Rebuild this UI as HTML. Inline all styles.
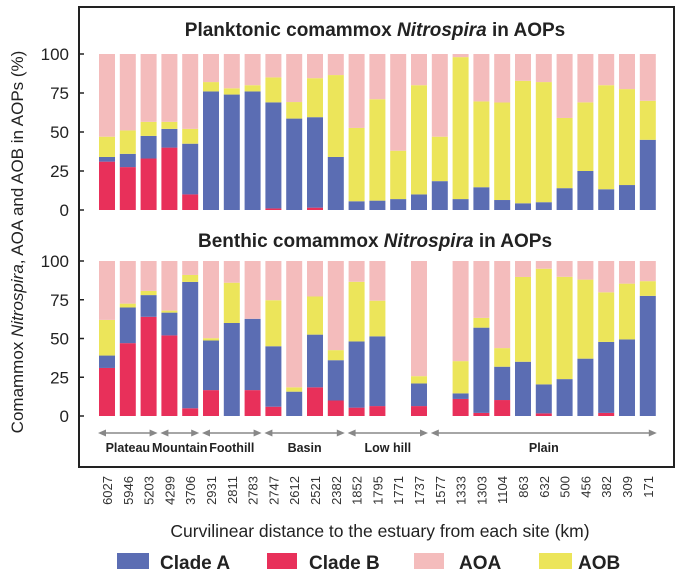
<!DOCTYPE html>
<html><head><meta charset="utf-8">
<style>
html,body{margin:0;padding:0;background:#fff;}
svg{display:block;font-family:"Liberation Sans",Arial,sans-serif;}
</style></head>
<body>
<svg id="chart" width="682" height="582" viewBox="0 0 682 582">
<rect x="79" y="7" width="595" height="460" fill="none" stroke="#222" stroke-width="2"/>
<text x="375" y="36" font-size="19" font-weight="bold" text-anchor="middle" fill="#222">Planktonic comammox <tspan font-style="italic">Nitrospira</tspan> in AOPs</text>
<text x="375" y="247" font-size="19" font-weight="bold" text-anchor="middle" fill="#222">Benthic comammox <tspan font-style="italic">Nitrospira</tspan> in AOPs</text>
<text transform="translate(23,242) rotate(-90)" font-size="17" text-anchor="middle" fill="#222">Comammox <tspan font-style="italic">Nitrospira</tspan>, AOA and AOB in AOPs (%)</text>
<text x="380" y="537" font-size="17.5" text-anchor="middle" fill="#222">Curvilinear distance to the estuary from each site (km)</text>
<g id="bars"></g>
<g id="axes"></g>
<g id="regions"></g>
<g>
<rect x="117" y="553" width="32" height="16" fill="#5b6db3"/>
<text x="160" y="569" font-size="19" font-weight="bold" fill="#222">Clade A</text>
<rect x="267" y="553" width="30" height="16" fill="#e8305a"/>
<text x="309" y="569" font-size="19" font-weight="bold" fill="#222">Clade B</text>
<rect x="414" y="553" width="30" height="16" fill="#f4bcbc"/>
<text x="459" y="569" font-size="19" font-weight="bold" fill="#222">AOA</text>
<rect x="539" y="553" width="33" height="16" fill="#ece55a"/>
<text x="578" y="569" font-size="19" font-weight="bold" fill="#222">AOB</text>
</g>
</svg>
<script>
const sites = ["6027","5946","5203","4299","3706","2931","2811","2783","2747","2612","2521","2382","1852","1795","1771","1737","1577","1333","1303","1104","863","632","500","456","382","309","171"];
const yTicks = [0,25,50,75,100];
// planktonic
const topCladeA = [3,8.5,14.5,12,32.5,76,74,76,68,58.6,58,34,5.6,6,7,10,18.5,7,14.6,6.4,4.3,5,14,25,13.3,16,45];
const topCladeB = [31,27.5,33,40,10,0,0,0,1,0,1.5,0,0,0,0,0,0,0,0,0,0,0,0,0,0,0,0];
const topAOB = [13,15,9,4.5,9.5,6,4,4,16,10.6,25,52.5,47,65,31,70,28.5,91,55,62.5,78.5,77,45,44,66.7,61.5,25];
// benthic (null = no sample)
const botCladeA = [8,23,14,14.7,81.5,32,60,46,39,15.7,34,26,42.7,45,null,14.6,null,3.6,55,21.5,35,18.7,23.8,37,45.8,49.4,77.5];
const botCladeB = [31,47,64,52,5,16.7,0,16.7,6,0,18.5,10,5.4,6.4,null,6.4,null,11,2,10.3,0,1.7,0,0,2,0,0];
const botAOB = [23,2.5,2.7,1.3,4.5,1.5,26,0,29.7,2.8,24.6,6.5,38.5,23,null,4.7,null,20.8,6.3,12,54.7,74.6,66,51,32,36,9.5];
const regionNames = ["Plateau","Mountain","Foothill","Basin","Low hill","Plain"];
const regionStart = [0,3,5,8,12,16];
const regionEnd = [2,4,7,11,15,26];

const NS="http://www.w3.org/2000/svg";
const C={A:"#5b6db3",B:"#e8305a",AOA:"#f4bcbc",AOB:"#ece55a"};
function xLeft(i){return 99+i*20.8;}
const BW=16;
function yTop(v){return 210-v*1.56;}
function yBot(v){return 416-v*1.55;}
function mk(tag,attrs,parent){const e=document.createElementNS(NS,tag);for(const k in attrs)e.setAttribute(k,attrs[k]);parent.appendChild(e);return e;}
const bars=document.getElementById('bars');
const axes=document.getElementById('axes');
const regions=document.getElementById('regions');

function drawPanel(A,B,AOB,ys,pname){
  for(let i=0;i<sites.length;i++){
    if(A[i]===null) continue;
    const segs=[["clade-b",B[i],C.B],["clade-a",A[i],C.A],["aob",AOB[i],C.AOB]];
    let acc=0;
    const total=B[i]+A[i]+AOB[i];
    segs.push(["aoa",100-total,C.AOA]);
    for(const s of segs){
      if(s[1]<=0){continue;}
      const r=mk('rect',{x:xLeft(i),y:ys(acc+s[1]),width:BW,height:ys(acc)-ys(acc+s[1]),fill:s[2]},bars);
      
      
      acc+=s[1];
    }
  }
  for(const t of yTicks){
    const l=mk('line',{x1:79,x2:84,y1:ys(t),y2:ys(t),stroke:'#222','stroke-width':1.5},axes);
    
    
    const tx=mk('text',{x:69,y:ys(t)+6,'font-size':17,'text-anchor':'end',fill:'#222'},axes);
    tx.textContent=t;
    
    
  }
}
drawPanel(topCladeA,topCladeB,topAOB,yTop,'planktonic');
drawPanel(botCladeA,botCladeB,botAOB,yBot,'benthic');

for(let i=0;i<sites.length;i++){
  const cx=xLeft(i)+BW/2+5;
  const t=mk('text',{transform:'translate('+cx+',476) rotate(-90)','font-size':13,'text-anchor':'end',fill:'#333'},axes);
  t.textContent=sites[i];
  
  
}
for(let r=0;r<regionNames.length;r++){
  const x1=xLeft(regionStart[r])-1, x2=xLeft(regionEnd[r])+BW+1;
  const g=mk('g',{},regions);
  
  
  mk('line',{x1:x1+4,x2:x2-4,y1:433,y2:433,stroke:'#888','stroke-width':1.5},g);
  mk('polygon',{points:(x1)+',433 '+(x1+8)+',429.5 '+(x1+8)+',436.5',fill:'#888'},g);
  mk('polygon',{points:(x2)+',433 '+(x2-8)+',429.5 '+(x2-8)+',436.5',fill:'#888'},g);
  const t=mk('text',{x:(x1+x2)/2,y:452,'font-size':12.5,'font-weight':'bold','text-anchor':'middle',fill:'#222'},regions);
  t.textContent=regionNames[r];
  
  
}
</script>
</body></html>
